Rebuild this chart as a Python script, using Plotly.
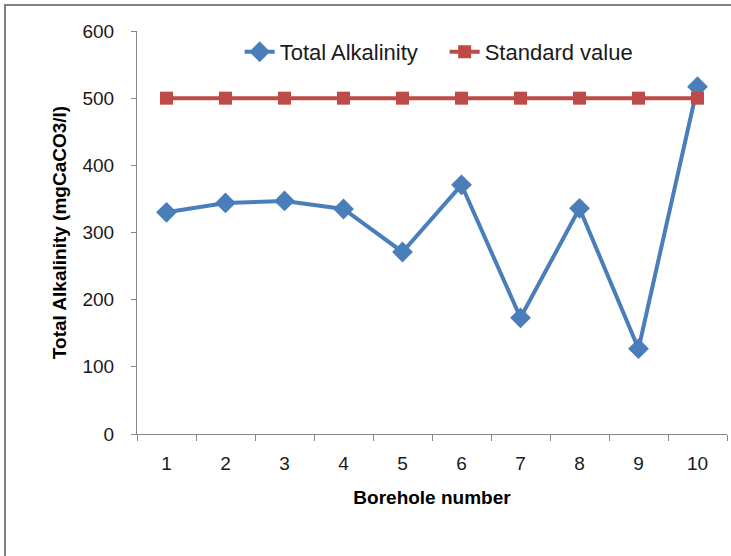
import plotly.graph_objects as go

boreholes = ["1", "2", "3", "4", "5", "6", "7", "8", "9", "10"]
total_alkalinity = [330, 344, 347, 335, 271, 371, 173, 336, 127, 517]
standard_value = [500, 500, 500, 500, 500, 500, 500, 500, 500, 500]

FONT = "Liberation Sans"
AXIS_GRAY = "#868686"

fig = go.Figure()
fig.add_trace(go.Scatter(
    x=boreholes, y=total_alkalinity, name="Total Alkalinity",
    mode="lines+markers",
    line=dict(color="#4A7EBB", width=4),
    marker=dict(symbol="diamond", size=16, color="#4A7EBB"),
))
fig.add_trace(go.Scatter(
    x=boreholes, y=standard_value, name="Standard value",
    mode="lines+markers",
    line=dict(color="#BE4B48", width=4),
    marker=dict(symbol="square", size=13, color="#BE4B48"),
))

fig.update_layout(
    width=731, height=556,
    margin=dict(l=137, r=4, t=31, b=122),
    paper_bgcolor="white", plot_bgcolor="white",
    font=dict(family=FONT, size=19, color="#000000"),
    showlegend=True,
    legend=dict(
        orientation="h", x=0.174, y=0.948, xanchor="left", yanchor="middle",
        font=dict(family=FONT, size=22, color="#1a1a1a"),
        bgcolor="rgba(0,0,0,0)", tracegroupgap=0,
        entrywidth=160, entrywidthmode="pixels",
    ),
    xaxis=dict(
        type="category", range=[-0.5, 9.5], tickson="boundaries",
        ticks="outside", ticklen=6, tickcolor=AXIS_GRAY,
        showline=True, linecolor=AXIS_GRAY, linewidth=1,
        showgrid=False, zeroline=False, ticklabelstandoff=12,
        tickfont=dict(family=FONT, size=19, color="#1a1a1a"),
        title=dict(text="<b>Borehole number</b>", font=dict(family=FONT, size=19), standoff=17),
    ),
    yaxis=dict(
        range=[0, 600], dtick=100, ticks="outside", ticklen=5,
        tickcolor=AXIS_GRAY, showline=True, linecolor=AXIS_GRAY, linewidth=1,
        showgrid=False, zeroline=False, ticklabelstandoff=13,
        tickfont=dict(family=FONT, size=19, color="#1a1a1a"),
        title=dict(text="<b>Total Alkalinity (mgCaCO3/l)</b>", font=dict(family=FONT, size=19), standoff=10),
    ),
    shapes=[dict(
        type="rect", xref="paper", yref="paper",
        x0=-0.2237, x1=1.05, y0=-0.5, y1=1.0645,
        line=dict(color="#7F7F7F", width=2), layer="below",
    )],
)

fig.write_html("out.html")
